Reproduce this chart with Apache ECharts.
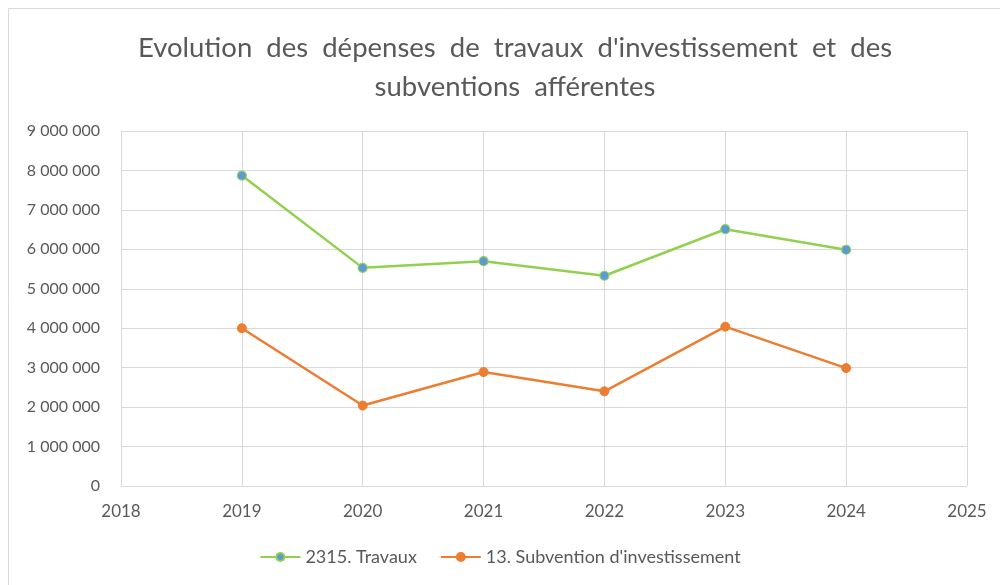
<!DOCTYPE html>
<html><head><meta charset="utf-8">
<script src="https://cdn.jsdelivr.net/npm/echarts@6/dist/echarts.min.js"></script>
<style>html,body{margin:0;padding:0;background:#fff}#c{width:1000px;height:585px}</style>
</head><body><div id="c"></div>
<script>
const years = [2019, 2020, 2021, 2022, 2023, 2024];
const travaux = [7870000, 5530000, 5700000, 5330000, 6510000, 5990000];
const subventions = [4000000, 2040000, 2890000, 2400000, 4040000, 2990000];
const seriesNames = ['2315. Travaux', "13. Subvention d'investissement"];
const titleText = "Evolution  des  dépenses  de  travaux  d'investissement  et  des\nsubventions  afférentes";

const FONT = 'Lato';
const TXT = '#595959';
const fmt = v => String(Math.round(v)).replace(/\B(?=(\d{3})+(?!\d))/g, ' ');
const chart = echarts.init(document.getElementById('c'), null, {renderer: 'canvas'});
chart.setOption({
  animation: false,
  backgroundColor: '#fff',
  graphic: [{type: 'rect', shape: {x: 8.5, y: 8.5, width: 1100, height: 700}, style: {fill: 'none', stroke: '#d9d9d9', lineWidth: 1}, silent: true}],
  title: {
    text: titleText, left: 510, top: 24, textAlign: 'center',
    textStyle: {fontFamily: FONT, fontSize: 27.5, fontWeight: 'normal', color: TXT, lineHeight: 39}
  },
  legend: {
    bottom: 14, left: 'center', itemWidth: 40, itemHeight: 10, itemGap: 23,
    textStyle: {fontFamily: FONT, fontSize: 18, color: TXT},
    data: seriesNames
  },
  grid: {left: 121, right: 33, top: 131, bottom: 99, containLabel: false},
  xAxis: {
    type: 'value', min: 2018, max: 2025, interval: 1,
    axisLine: {show: false}, axisTick: {show: false},
    splitLine: {show: true, lineStyle: {color: '#d9d9d9', width: 1}},
    axisLabel: {formatter: v => String(v), fontFamily: FONT, fontSize: 17, color: TXT, margin: 17}
  },
  yAxis: {
    type: 'value', min: 0, max: 9000000, interval: 1000000,
    axisLine: {show: false}, axisTick: {show: false},
    splitLine: {show: true, lineStyle: {color: '#d9d9d9', width: 1}},
    axisLabel: {formatter: fmt, fontFamily: FONT, fontSize: 16, color: TXT, margin: 21}
  },
  series: [
    {
      name: seriesNames[0], type: 'line',
      data: years.map((y, i) => [y, travaux[i]]),
      symbol: 'circle', symbolSize: 9,
      lineStyle: {color: '#92D050', width: 2.5},
      itemStyle: {color: '#5B9BD5', borderColor: '#92D050', borderWidth: 1.2}
    },
    {
      name: seriesNames[1], type: 'line',
      data: years.map((y, i) => [y, subventions[i]]),
      symbol: 'circle', symbolSize: 9,
      lineStyle: {color: '#ED7D31', width: 2.5},
      itemStyle: {color: '#ED7D31', borderColor: '#ED7D31', borderWidth: 1}
    }
  ]
});
</script></body></html>
